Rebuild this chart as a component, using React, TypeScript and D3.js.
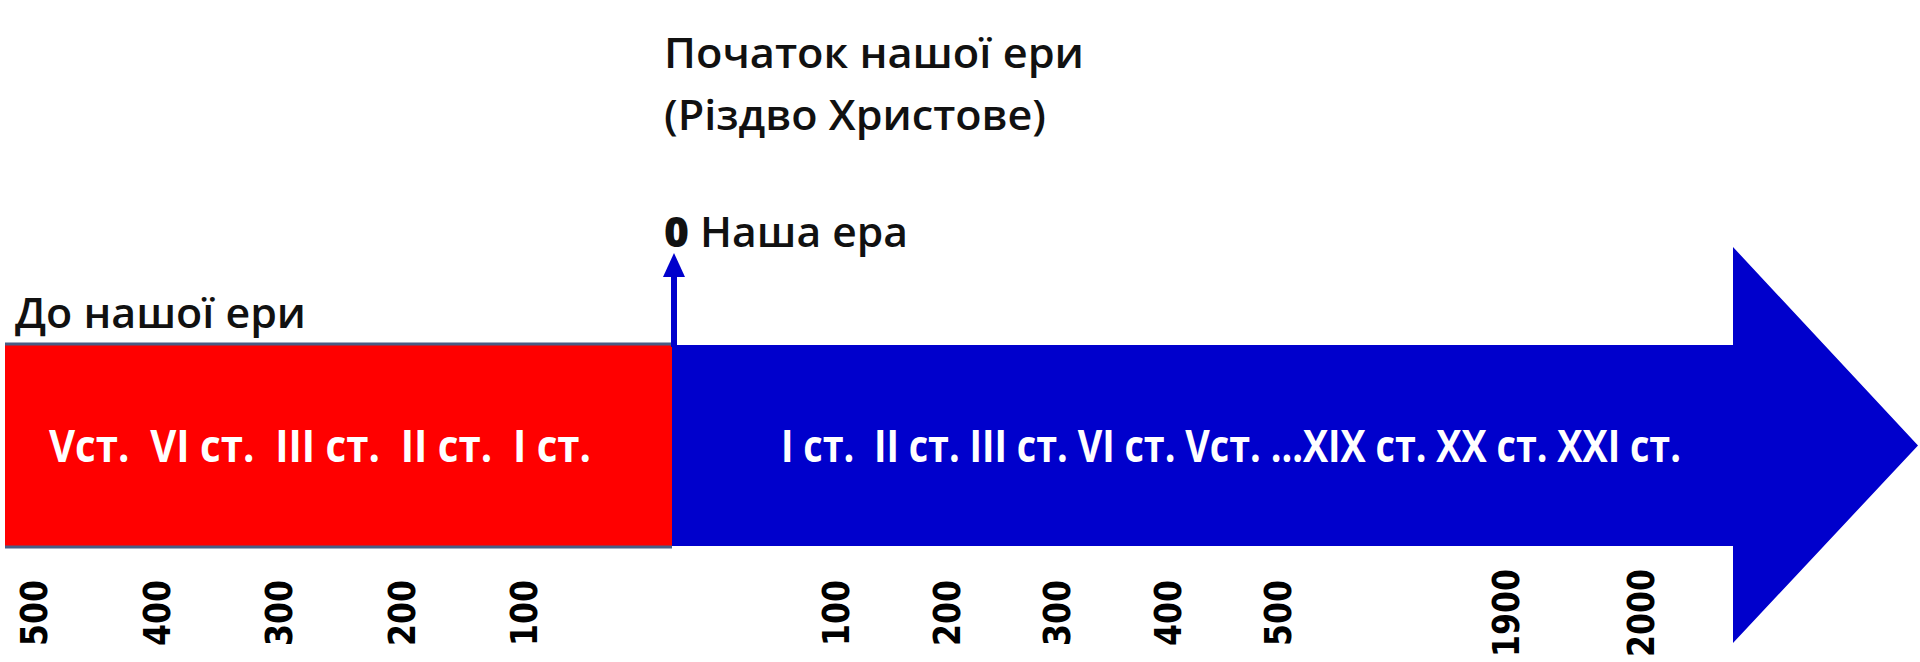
import React from "react";
import * as d3 from "d3";

// era labels and tick years
const titleLines = ["Початок нашої ери", "(Різдво Христове)"];
const zeroLabel = "0";
const ourEraLabel = "Наша ера";
const beforeEraLabel = "До нашої ери";
const bcCenturies = ["Vст.", "VI ст.", "III ст.", "II ст.", "I ст."];
const adCenturies = ["I ст. ", "II ст.", "III ст.", "VI ст.", "Vст.", "...XIX ст.", "XX ст.", "XXI ст."];
const bcYears = [500, 400, 300, 200, 100];
const adYears = [100, 200, 300, 400, 500, 1900, 2000];

const width = 1920;
const height = 662;

const bandTop = 345;
const bandBottom = 546;
const bandMid = (bandTop + bandBottom) / 2;
const splitX = 672;
const headBaseX = 1733;
const headTop = 247;
const headBottom = 643;
const tipX = 1918;

const red = "#ff0000";
const blue = "#0000cc";
const edge = "#4a5d85";
const font = "'Open Sans', 'Noto Sans', sans-serif";
const numFont = "'DejaVu Sans', Verdana, sans-serif";

// broken axis: BC years run right-to-left, AD has a gap between 500 and 1900
const xBC = d3.scaleLinear().domain([500, 100]).range([34, 524]);
const xAD = d3.scaleLinear().domain([100, 500, 1900, 2000]).range([836, 1278, 1506, 1641]);

const line = d3.line<[number, number]>();

const arrowPath = line([
  [splitX, bandTop],
  [headBaseX, bandTop],
  [headBaseX, headTop],
  [tipX, bandMid],
  [headBaseX, headBottom],
  [headBaseX, bandBottom],
  [splitX, bandBottom],
]) + "Z";

const zeroX = 674;
const markerPath = line([
  [zeroX - 11, 277],
  [zeroX, 253],
  [zeroX + 11, 277],
]) + "Z";

const YearLabel = ({ x, label }: { x: number; label: number }) => (
  <text
    transform={`translate(${x},613) rotate(-90)`}
    textAnchor="middle"
    dominantBaseline="central"
    fontFamily={numFont}
    fontWeight="bold"
    fontSize={38}
    fill="#000"
    textLength={String(label).length * 22}
    lengthAdjust="spacingAndGlyphs"
  >
    {label}
  </text>
);

export default function App() {
  return (
    <svg
      width={width}
      height={height}
      style={{ position: "absolute", left: 0, top: 0, background: "#fff" }}
    >
      {/* AD arrow */}
      <path d={arrowPath} fill={blue} />

      {/* BC band */}
      <rect x={5} y={bandTop} width={splitX - 5} height={bandBottom - bandTop} fill={red} />
      <line x1={5} x2={splitX} y1={bandTop - 1} y2={bandTop - 1} stroke={edge} strokeWidth={3} />
      <line x1={5} x2={splitX} y1={bandBottom + 1} y2={bandBottom + 1} stroke={edge} strokeWidth={3} />

      {/* year zero marker */}
      <rect x={zeroX - 3} y={270} width={6} height={bandTop - 268} fill={blue} />
      <path d={markerPath} fill={blue} />

      {/* titles */}
      {titleLines.map((t, i) => (
        <text
          key={t}
          x={664}
          y={68 + i * 62}
          fontFamily={font}
          fontWeight={600}
          fontSize={42}
          fill="#111"
          textLength={i === 0 ? 420 : 382}
          lengthAdjust="spacingAndGlyphs"
        >
          {t}
        </text>
      ))}
      <text
        x={664}
        y={247}
        fontFamily={font}
        fontSize={42}
        fill="#111"
        textLength={244}
        lengthAdjust="spacingAndGlyphs"
      >
        <tspan fontWeight={800}>{zeroLabel}</tspan>
        <tspan fontWeight={600}> {ourEraLabel}</tspan>
      </text>
      <text
        x={15}
        y={328}
        fontFamily={font}
        fontWeight={600}
        fontSize={42}
        fill="#111"
        textLength={291}
        lengthAdjust="spacingAndGlyphs"
      >
        {beforeEraLabel}
      </text>

      {/* centuries inside the bands */}
      <text
        x={49}
        y={bandMid + 16}
        fontFamily={font}
        fontWeight="bold"
        fontSize={44}
        fill="#fff"
        style={{ whiteSpace: "pre" }}
        textLength={542}
        lengthAdjust="spacingAndGlyphs"
      >
        {bcCenturies.join("  ")}
      </text>
      <text
        x={781}
        y={bandMid + 16}
        fontFamily={font}
        fontWeight="bold"
        fontSize={44}
        fill="#fff"
        style={{ whiteSpace: "pre" }}
        textLength={900}
        lengthAdjust="spacingAndGlyphs"
      >
        {adCenturies.join(" ")}
      </text>

      {/* year ticks */}
      {bcYears.map((y) => (
        <YearLabel key={"bc" + y} x={xBC(y)} label={y} />
      ))}
      {adYears.map((y) => (
        <YearLabel key={"ad" + y} x={xAD(y)} label={y} />
      ))}
    </svg>
  );
}
